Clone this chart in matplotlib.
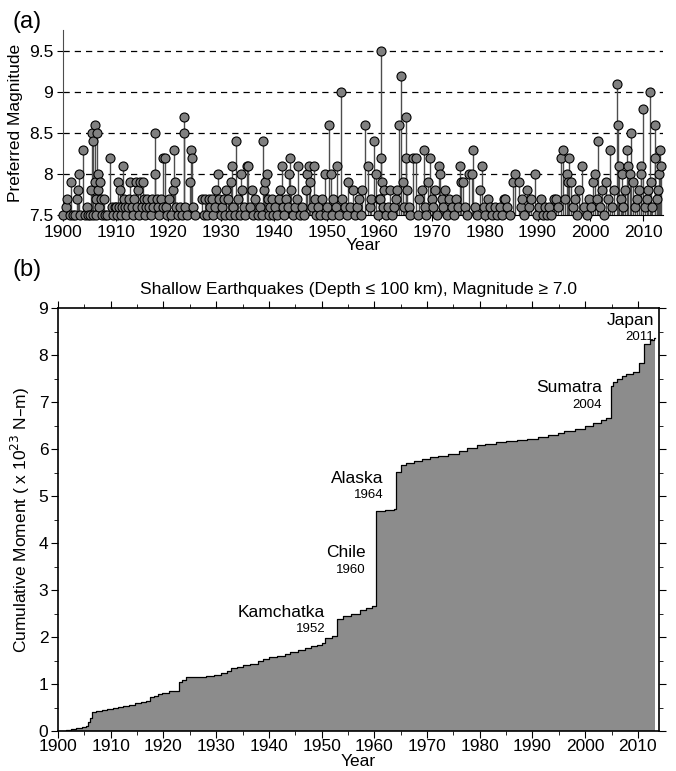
import numpy as np
import matplotlib
matplotlib.use("Agg")
import matplotlib.pyplot as plt
from matplotlib.ticker import MultipleLocator

plt.rcParams['font.family'] = ['Liberation Sans', 'DejaVu Sans']

# ---- panel (a): individual events, M >= 7.5 ----
eq_year = [
    1900.0, 1900.5, 1900.7, 1901.3, 1901.6, 1901.9, 1902.3, 1902.6, 1902.8, 1903.0,
    1903.2, 1903.8, 1904.2, 1904.5, 1904.8, 1905.1, 1905.3, 1905.5, 1905.6, 1905.7,
    1906.0, 1906.1, 1906.2, 1906.3, 1906.5, 1906.6, 1906.7, 1906.8, 1907.0, 1907.2,
    1907.4, 1907.7, 1908.0, 1908.4, 1909.0, 1909.2, 1909.5, 1909.8,
    1910.0, 1910.2, 1910.4, 1910.6, 1910.8, 1911.0, 1911.2, 1911.4, 1911.6, 1911.8,
    1912.0, 1912.3, 1912.5, 1912.8, 1913.0, 1913.2, 1913.5, 1913.8, 1914.0, 1914.2,
    1914.4, 1914.6, 1914.9, 1915.1, 1915.3, 1915.6, 1915.8, 1916.0, 1916.3, 1916.6,
    1916.9, 1917.1, 1917.4, 1917.5, 1917.8, 1918.0, 1918.3, 1918.6, 1918.9, 1919.0,
    1919.4, 1919.6, 1919.8,
    1920.1, 1920.4, 1920.8, 1921.0, 1921.3, 1921.5, 1921.8, 1922.2, 1922.5, 1922.9,
    1923.0, 1923.2, 1923.6, 1924.0, 1924.3, 1924.4, 1924.6, 1925.0, 1926.4, 1926.7,
    1927.0, 1927.3, 1927.6, 1927.9, 1928.2, 1928.5, 1928.8, 1929.1, 1929.4, 1929.6,
    1929.9,
    1930.2, 1930.5, 1930.8, 1931.0, 1931.3, 1931.6, 1931.9, 1932.1, 1932.3, 1932.6,
    1932.9, 1933.2, 1933.5, 1933.8, 1934.0, 1934.3, 1934.6, 1934.9, 1935.1, 1935.4,
    1935.8, 1936.1, 1936.5, 1936.9, 1937.3, 1937.7, 1938.0, 1938.2, 1938.4, 1938.6,
    1938.8, 1939.0, 1939.3, 1939.6, 1939.9,
    1940.2, 1940.6, 1940.9, 1941.2, 1941.6, 1941.8, 1942.0, 1942.3, 1942.6, 1942.9,
    1943.0, 1943.3, 1943.6, 1944.0, 1944.3, 1944.6, 1944.9, 1945.3, 1945.7, 1946.0,
    1946.3, 1946.7, 1946.9, 1947.2, 1947.6, 1947.8, 1948.0, 1948.4, 1948.8, 1949.2,
    1949.6, 1949.9,
    1950.0, 1950.4, 1950.8, 1951.0, 1951.3, 1951.7, 1952.0, 1952.3, 1952.8, 1953.0,
    1953.4, 1953.8, 1954.1, 1954.5, 1955.0, 1955.4, 1955.8, 1956.2, 1956.5, 1956.8,
    1957.3, 1957.9, 1958.2, 1958.5, 1958.9, 1959.3, 1959.7, 1959.9,
    1960.1, 1960.4, 1960.4, 1960.5, 1960.7, 1960.9, 1961.3, 1961.7, 1962.0, 1962.4,
    1962.8, 1963.2, 1963.4, 1963.8, 1964.2, 1964.4, 1964.6, 1965.1, 1965.1, 1965.3,
    1965.6, 1965.9, 1966.4, 1966.9, 1967.3, 1967.6, 1968.1, 1968.4, 1968.7, 1968.9,
    1969.2, 1969.6, 1969.9,
    1970.2, 1970.5, 1970.9, 1971.4, 1971.5, 1971.8, 1972.1, 1972.5, 1972.9, 1973.3,
    1973.7, 1974.1, 1974.5, 1974.9, 1975.3, 1975.5, 1975.9, 1976.2, 1976.6, 1977.0,
    1977.6, 1977.8, 1978.2, 1978.6, 1979.1, 1979.5, 1979.9,
    1980.1, 1980.6, 1981.0, 1981.4, 1981.9, 1982.3, 1982.8, 1983.3, 1983.6, 1983.9,
    1984.3, 1984.8, 1985.4, 1985.8, 1986.5, 1986.8, 1987.0, 1987.4, 1988.0, 1988.4,
    1988.8, 1989.6, 1989.9,
    1990.3, 1990.7, 1991.0, 1991.4, 1991.8, 1992.2, 1992.6, 1993.1, 1993.6, 1993.9,
    1994.4, 1994.9, 1995.2, 1995.5, 1995.8, 1996.0, 1996.3, 1996.7, 1997.1, 1997.5,
    1997.9, 1998.4, 1998.8, 1999.3, 1999.8,
    2000.2, 2000.6, 2000.9, 2001.2, 2001.5, 2001.8, 2002.3, 2002.6, 2002.9, 2003.3,
    2003.8, 2004.2, 2004.6, 2005.0, 2005.3, 2005.5, 2005.8, 2006.0, 2006.3, 2006.6,
    2006.9, 2007.2, 2007.6, 2007.8, 2008.1, 2008.5, 2008.9, 2009.3, 2009.6, 2009.7,
    2010.1, 2010.3, 2010.7, 2010.9, 2011.3, 2011.5, 2011.8, 2012.2, 2012.2, 2012.6,
    2012.9, 2013.0, 2013.3, 2013.4,
]
eq_mag = [
    7.5, 7.6, 7.7, 7.5, 7.9, 7.5, 7.5, 7.7, 7.8, 8.0,
    7.5, 8.3, 7.5, 7.6, 7.5, 7.5, 7.8, 8.5, 8.4, 7.5,
    8.6, 7.9, 7.7, 7.5, 8.5, 8.0, 7.8, 7.6, 7.9, 7.7,
    7.5, 7.7, 7.5, 7.5, 8.2, 7.6, 7.5, 7.6,
    7.6, 7.5, 7.9, 7.6, 7.8, 7.5, 7.6, 8.1, 7.7, 7.6,
    7.5, 7.6, 7.7, 7.9, 7.6, 7.5, 7.7, 7.9, 7.6, 7.8,
    7.5, 7.9, 7.6, 7.9, 7.7, 7.5, 7.6, 7.7, 7.6, 7.5,
    7.7, 7.6, 8.5, 8.0, 7.7, 7.6, 7.5, 7.7, 7.6, 8.2,
    8.2, 7.6, 7.5,
    7.7, 7.5, 7.8, 8.3, 7.9, 7.6, 7.5, 7.6, 7.5, 8.7,
    8.5, 7.6, 7.5, 7.9, 8.3, 8.2, 7.6, 7.5, 7.7, 7.5,
    7.7, 7.5, 7.7, 7.6, 7.7, 7.5, 7.6, 7.8, 8.0, 7.7,
    7.5,
    7.6, 7.7, 7.5, 7.8, 7.7, 7.5, 7.9, 8.1, 7.6, 7.5,
    8.4, 7.7, 7.5, 8.0, 7.8, 7.6, 7.5, 8.1, 8.1, 7.6,
    7.8, 7.5, 7.7, 7.5, 7.6, 7.5, 8.4, 7.8, 7.9, 8.0,
    7.7, 7.5, 7.6, 7.7, 7.5,
    7.6, 7.5, 7.7, 7.8, 8.1, 7.6, 7.5, 7.7, 7.6, 8.0,
    8.2, 7.8, 7.5, 7.6, 7.7, 8.1, 7.5, 7.6, 7.5, 7.8,
    8.0, 8.1, 7.9, 7.6, 8.1, 7.7, 7.5, 7.6, 7.5, 7.7,
    8.0, 7.5,
    7.6, 8.6, 8.0, 7.5, 7.7, 7.6, 8.1, 7.5, 9.0, 7.7,
    7.6, 7.5, 7.9, 7.6, 7.8, 7.5, 7.6, 7.7, 7.5, 7.8,
    8.6, 8.1, 7.6, 7.7, 8.4, 8.0, 7.5, 7.7,
    7.7, 9.5, 8.2, 7.9, 7.6, 7.8, 7.5, 7.6, 7.8, 7.5,
    7.6, 7.7, 7.8, 8.6, 9.2, 7.9, 7.6, 8.7, 8.2, 7.8,
    7.6, 7.5, 8.2, 8.2, 7.5, 7.7, 7.8, 8.3, 7.6, 7.5,
    7.9, 8.2, 7.7,
    7.6, 7.8, 7.5, 8.1, 8.0, 7.7, 7.6, 7.8, 7.5, 7.7,
    7.6, 7.5, 7.7, 7.6, 8.1, 7.9, 7.9, 7.6, 7.5, 8.0,
    8.0, 8.3, 7.6, 7.5, 7.8, 8.1, 7.6,
    7.5, 7.7, 7.6, 7.5, 7.6, 7.5, 7.6, 7.5, 7.7, 7.7,
    7.6, 7.5, 7.9, 8.0, 7.9, 7.6, 7.7, 7.5, 7.8, 7.6,
    7.7, 8.0, 7.5,
    7.6, 7.7, 7.5, 7.6, 7.5, 7.6, 7.5, 7.7, 7.7, 7.6,
    8.2, 8.3, 7.7, 8.0, 7.9, 8.2, 7.9, 7.6, 7.7, 7.5,
    7.8, 8.1, 7.6, 7.5, 7.7,
    7.6, 7.9, 8.0, 7.7, 8.4, 7.6, 7.8, 7.5, 7.9, 7.7,
    8.3, 7.6, 7.8, 9.1, 8.6, 8.1, 7.7, 8.0, 7.6, 7.8,
    8.3, 8.1, 8.0, 8.5, 7.9, 7.6, 7.7, 7.8, 8.1, 8.0,
    8.8, 7.6, 7.7, 7.8, 9.0, 7.9, 7.6, 8.6, 8.2, 7.7,
    7.8, 8.0, 8.3, 8.1,
]

# ---- panel (b): cumulative seismic moment (x 1e23 N-m) ----
cum_year = [
    1900.0, 1901.5, 1902.5, 1903.5, 1904.5, 1905.4, 1905.6, 1906.0, 1906.5, 1907.2,
    1908.3, 1909.2, 1910.5, 1911.4, 1912.3, 1913.5, 1914.6, 1915.7, 1916.6, 1917.4,
    1918.3, 1919.0, 1919.8, 1921.0, 1922.9, 1923.6, 1924.3, 1926.5, 1928.0, 1929.5,
    1931.0, 1932.1, 1932.9, 1934.0, 1935.1, 1936.5, 1938.0, 1938.8, 1940.0, 1941.6,
    1943.0, 1944.0, 1945.5, 1946.9, 1948.0, 1949.2, 1950.0, 1950.6, 1952.0, 1952.9,
    1954.0, 1955.5, 1957.3, 1958.5, 1959.6, 1960.4, 1962.0, 1963.8, 1964.2, 1965.1,
    1966.0, 1967.5, 1969.0, 1970.5, 1972.0, 1974.0, 1976.0, 1977.6, 1979.5, 1981.0,
    1983.0, 1985.0, 1987.0, 1989.0, 1991.0, 1993.0, 1994.8, 1996.0, 1998.0, 2000.0,
    2001.5, 2003.0, 2004.0, 2004.98, 2005.25, 2006.0, 2006.9, 2007.7, 2009.0, 2010.15,
    2011.2, 2012.2, 2013.0, 2013.3,
]
cum_moment = [
    0.00, 0.02, 0.04, 0.07, 0.09, 0.10, 0.20, 0.28, 0.41, 0.43,
    0.45, 0.47, 0.48, 0.51, 0.54, 0.56, 0.59, 0.61, 0.64, 0.72,
    0.75, 0.79, 0.81, 0.85, 1.05, 1.08, 1.14, 1.15, 1.17, 1.20,
    1.23, 1.27, 1.33, 1.36, 1.40, 1.43, 1.48, 1.53, 1.57, 1.60,
    1.64, 1.68, 1.72, 1.77, 1.81, 1.84, 1.87, 1.97, 2.02, 2.38,
    2.45, 2.49, 2.57, 2.62, 2.65, 4.68, 4.70, 4.72, 5.52, 5.66,
    5.70, 5.74, 5.78, 5.82, 5.86, 5.90, 5.95, 6.02, 6.08, 6.11,
    6.14, 6.16, 6.19, 6.22, 6.25, 6.29, 6.33, 6.38, 6.43, 6.48,
    6.55, 6.62, 6.66, 7.35, 7.42, 7.48, 7.55, 7.60, 7.64, 7.84,
    8.24, 8.31, 8.36, 8.36,
]

quake_names = ['Kamchatka', 'Chile', 'Alaska', 'Sumatra', 'Japan']
quake_years = ['1952', '1960', '1964', '2004', '2011']
label_x = [1950.7, 1958.3, 1961.7, 2003.2, 2013.1]
label_y = [2.53, 3.79, 5.38, 7.30, 8.74]

fs = 12.5

fig = plt.figure(figsize=(6.76, 7.71), dpi=100)

# ---------------- (a) ----------------
ax1 = fig.add_axes([63/676, 1-215/771, 600/676, 185/771])
ax1.vlines(eq_year, 7.5, eq_mag, color='0.3', lw=1.0, zorder=2)
ax1.plot(eq_year, eq_mag, 'o', ms=6.5, mfc='#808080', mec='k', mew=0.8,
         clip_on=False, zorder=3)
for yv in [8, 8.5, 9, 9.5]:
    ax1.axhline(yv, color='k', ls=(0, (5, 4)), lw=0.9, zorder=1)
ax1.set_xlim(1900, 2013.8)
ax1.set_ylim(7.5, 9.76)
ax1.set_yticks([7.5, 8, 8.5, 9, 9.5])
ax1.set_yticklabels(['7.5', '8', '8.5', '9', '9.5'])
ax1.set_xticks(np.arange(1900, 2011, 10))
for s in ['top', 'right']:
    ax1.spines[s].set_visible(False)
ax1.spines['left'].set_color('0.3')
ax1.tick_params(direction='out', length=4, labelsize=fs, pad=3)
ax1.set_ylabel('Preferred Magnitude', fontsize=fs, labelpad=4)
ax1.set_xlabel('Year', fontsize=fs, labelpad=-1)
fig.text(0.018, 0.972, '(a)', fontsize=17, va='center')

# ---------------- (b) ----------------
ax2 = fig.add_axes([58/676, 1-731/771, 601/676, 423/771])
ax2.fill_between(cum_year, cum_moment, step='post', color='#8c8c8c', lw=0)
ax2.step(cum_year, cum_moment, where='post', color='k', lw=0.9)
ax2.set_xlim(1900, 2014)
ax2.set_ylim(0, 9)
ax2.set_xticks(np.arange(1900, 2011, 10))
ax2.xaxis.set_minor_locator(MultipleLocator(5))
ax2.yaxis.set_major_locator(MultipleLocator(1))
ax2.yaxis.set_minor_locator(MultipleLocator(0.5))
ax2.tick_params(which='both', direction='out', top=True, right=True,
                labelsize=fs, pad=2)
ax2.tick_params(which='major', length=5)
ax2.tick_params(which='minor', length=3)
ax2.tick_params(axis='x', pad=1)
for s in ax2.spines.values():
    s.set_linewidth(1.2)
ax2.set_ylabel('Cumulative Moment ( x 10$^{23}$ N\u2013m)', fontsize=fs, labelpad=5)
ax2.set_xlabel('Year', fontsize=fs, labelpad=0)
ax2.set_title('Shallow Earthquakes (Depth \u2264 100 km), Magnitude \u2265 7.0',
              fontsize=fs, pad=10)
for name, yr, lx, ly in zip(quake_names, quake_years, label_x, label_y):
    ax2.text(lx, ly, name, ha='right', va='center', fontsize=fs)
    ax2.text(lx, ly - 0.36, yr, ha='right', va='center', fontsize=9.5)
fig.text(0.018, 0.65, '(b)', fontsize=17, va='center')

fig.savefig('out.png', dpi=100)
